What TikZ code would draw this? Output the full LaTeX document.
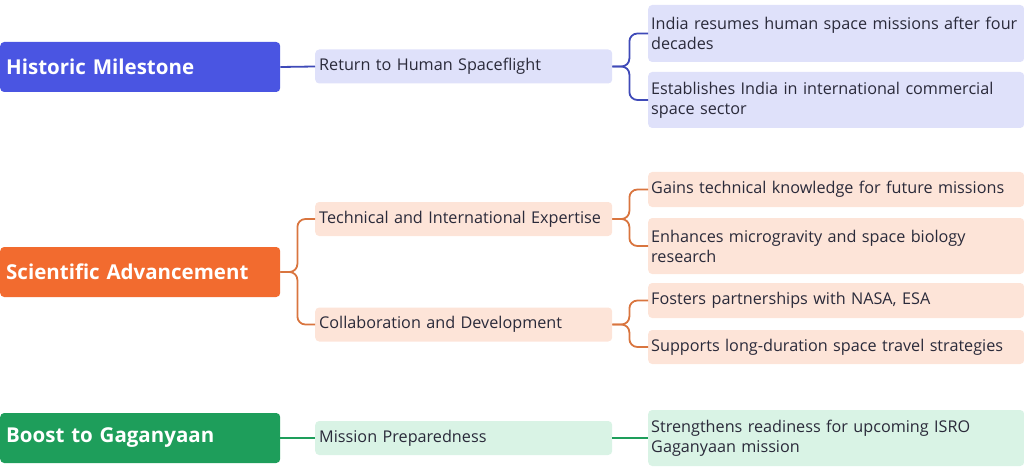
\documentclass[tikz,border=0pt]{standalone}
\usepackage{fontspec}
\setmainfont{Open Sans}
\usetikzlibrary{positioning}
\definecolor{bluemain}{HTML}{4A55E2}
\definecolor{bluelight}{HTML}{DFE1FA}
\definecolor{blueline}{HTML}{3F4AB8}
\definecolor{orgmain}{HTML}{F26B2F}
\definecolor{orglight}{HTML}{FDE4D8}
\definecolor{orgline}{HTML}{D9753F}
\definecolor{grnmain}{HTML}{1E9E5B}
\definecolor{grnlight}{HTML}{D9F3E5}
\definecolor{grnline}{HTML}{1E9E5B}
\definecolor{txt}{HTML}{2A2A3A}
\begin{document}
\begin{tikzpicture}[x=1pt,y=-1pt,
    rootbox/.style={rectangle,rounded corners=4pt,minimum width=280pt,minimum height=50pt,
      text=white,font=\fontsize{20.5}{24}\selectfont\bfseries,anchor=west,align=left,text width=268pt,inner sep=6pt},
    midbox/.style={rectangle,rounded corners=4pt,minimum width=297pt,minimum height=34pt,
      text=txt,font=\fontsize{16.2}{19}\selectfont,anchor=west,align=left,text width=289pt,inner sep=4pt},
    leafbox/.style={rectangle,rounded corners=4pt,minimum width=376pt,
      text=txt,font=\fontsize{16.2}{20}\selectfont,anchor=west,align=left,text width=370pt,inner sep=3pt},
    link/.style={line width=1.8pt,rounded corners=8pt}]
  \useasboundingbox (0,0) rectangle (1024,473);

  % Historic Milestone
  \node (hist) [rootbox,fill=bluemain] at (0,67) {Historic Milestone};
  \node (ret) [midbox,fill=bluelight] at (315,66.5) {Return to Human Spaceflight};
  \node (ret1) [leafbox,fill=bluelight,minimum height=57pt] at (648,33.5) {India resumes human space missions after four\\decades};
  \node (ret2) [leafbox,fill=bluelight,minimum height=56pt] at (648,100) {Establishes India in international commercial\\space sector};
  \draw [link,blueline] (hist.east) -- (ret.west);
  \draw [link,blueline] (ret.east) -- ++(17,0) |- (ret1.west);
  \draw [link,blueline] (ret.east) -- ++(17,0) |- (ret2.west);

  % Scientific Advancement
  \node (sci) [rootbox,fill=orgmain] at (0,272) {Scientific Advancement};
  \node (tech) [midbox,fill=orglight] at (315,219) {Technical and International Expertise};
  \node (coll) [midbox,fill=orglight] at (315,324.5) {Collaboration and Development};
  \node (tech1) [leafbox,fill=orglight,minimum height=35pt] at (648,189.5) {Gains technical knowledge for future missions};
  \node (tech2) [leafbox,fill=orglight,minimum height=56pt] at (648,246) {Enhances microgravity and space biology\\research};
  \node (coll1) [leafbox,fill=orglight,minimum height=35pt] at (648,300.5) {Fosters partnerships with NASA, ESA};
  \node (coll2) [leafbox,fill=orglight,minimum height=34pt] at (648,347) {Supports long-duration space travel strategies};
  \draw [link,orgline] (sci.east) -- ++(17,0) |- (tech.west);
  \draw [link,orgline] (sci.east) -- ++(17,0) |- (coll.west);
  \draw [link,orgline] (tech.east) -- ++(17,0) |- (tech1.west);
  \draw [link,orgline] (tech.east) -- ++(17,0) |- (tech2.west);
  \draw [link,orgline] (coll.east) -- ++(17,0) |- (coll1.west);
  \draw [link,orgline] (coll.east) -- ++(17,0) |- (coll2.west);

  % Boost to Gaganyaan
  \node (boost) [rootbox,fill=grnmain] at (0,438) {Boost to Gaganyaan};
  \node (miss) [midbox,fill=grnlight] at (315,438) {Mission Preparedness};
  \node (miss1) [leafbox,fill=grnlight,minimum height=56pt] at (648,438) {Strengthens readiness for upcoming ISRO\\Gaganyaan mission};
  \draw [link,grnline] (boost.east) -- (miss.west);
  \draw [link,grnline] (miss.east) -- (miss1.west);
\end{tikzpicture}
\end{document}
